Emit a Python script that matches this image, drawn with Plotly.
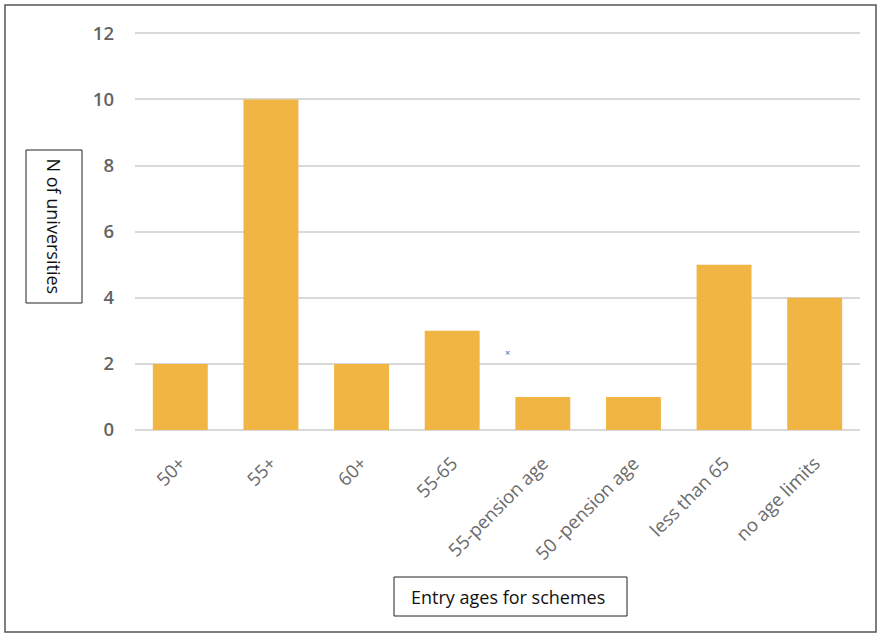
import plotly.graph_objects as go

categories = ["50+", "55+", "60+", "55-65", "55-pension age", "50 -pension age", "less than 65", "no age limits"]
values = [2, 10, 2, 3, 1, 1, 5, 4]
y_ticks = [0, 2, 4, 6, 8, 10, 12]

W, H = 877, 635
L, R, T, B = 135, 17, 30, 205
pw, ph = W - L - R, H - T - B

def px_x(x):
    return (x - L) / pw

def px_y(y):
    return 1 - (y - T) / ph

fig = go.Figure(go.Bar(x=categories, y=values, marker_color="#F0B542", marker_line_width=0))

fig.update_layout(
    width=W, height=H,
    margin=dict(l=L, r=R, t=T, b=B),
    paper_bgcolor="white", plot_bgcolor="white",
    bargap=0.394,
    showlegend=False,
    font=dict(family="Open Sans, sans-serif", color="#595959"),
)
fig.update_xaxes(
    tickangle=-45, tickfont=dict(size=18.5, color="#6b6b6b", family="Open Sans"),
    showgrid=False, showline=False, ticks="", ticklabelstandoff=18,
)
fig.update_yaxes(
    range=[0, 12.1], tickvals=y_ticks, showgrid=True, gridcolor="#D9D9D9", gridwidth=2,
    zeroline=True, zerolinecolor="#D9D9D9", zerolinewidth=2,
    tickfont=dict(size=18.5, color="#636363", family="Open Sans", weight=600),
    ticklabelstandoff=20, showline=False,
)

shapes = [
    # outer frame
    dict(type="rect", xref="paper", yref="paper", x0=px_x(5), x1=px_x(876), y0=px_y(632), y1=px_y(5),
         line=dict(color="#555555", width=1.5), fillcolor="rgba(0,0,0,0)", layer="below"),
    # y title box
    dict(type="rect", xref="paper", yref="paper", x0=px_x(26), x1=px_x(82), y0=px_y(303), y1=px_y(150),
         line=dict(color="#222222", width=1), fillcolor="white"),
    # x title box
    dict(type="rect", xref="paper", yref="paper", x0=px_x(394), x1=px_x(627), y0=px_y(616), y1=px_y(577),
         line=dict(color="#222222", width=1), fillcolor="white"),
]
fig.update_layout(shapes=shapes)

fig.add_annotation(text="N of universities", xref="paper", yref="paper", x=px_x(54), y=px_y(226.5),
                   xanchor="center", yanchor="middle",
                   textangle=90, showarrow=False, font=dict(size=18, color="#111111", family="Open Sans"))
fig.add_annotation(text="Entry ages for schemes", xref="paper", yref="paper", x=px_x(508), y=px_y(597),
                   xanchor="center", yanchor="middle",
                   showarrow=False, font=dict(size=18, color="#111111", family="Open Sans"))
fig.add_annotation(text="×", xref="paper", yref="paper", x=px_x(507), y=px_y(352),
                   xanchor="center", yanchor="middle",
                   showarrow=False, font=dict(size=9, color="#4060C0"))

fig.write_html("out.html")
